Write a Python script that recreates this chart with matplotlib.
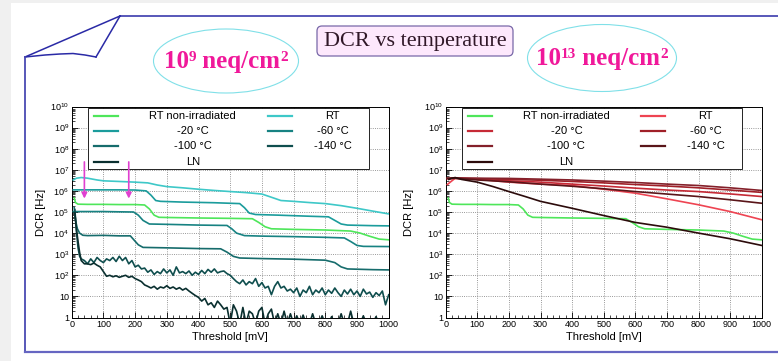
import matplotlib.pyplot as plt
from matplotlib.patches import Rectangle, Ellipse, FancyBboxPatch
from matplotlib.ticker import FixedLocator, FixedFormatter, LogLocator, MultipleLocator, NullFormatter

plt.rcParams['font.family'] = ['Liberation Sans', 'DejaVu Sans']
plt.rcParams['mathtext.fontset'] = 'custom'
plt.rcParams['mathtext.rm'] = 'Liberation Sans'
plt.rcParams['mathtext.it'] = 'Liberation Sans:italic'

# ---- data (DCR in Hz vs threshold in mV) ----
labels = ['RT non-irradiated', 'RT', '-20 °C', '-60 °C', '-100 °C', '-140 °C', 'LN']
panel_titles = [('10', '9'), ('10', '13')]
ytick_vals = [1, 1e1, 1e2, 1e3, 1e4, 1e5, 1e6, 1e7, 1e8, 1e9, 1e10]
ytick_labels = ['1', '10'] + [r'$10^{%d}$' % k for k in range(2, 11)]
xtick_vals = [0, 100, 200, 300, 400, 500, 600, 700, 800, 900, 1000]

# non-irradiated reference (same curve in both panels)
ref_x = [8, 12, 20, 50, 100, 150, 200, 230, 245, 260, 275, 300, 400, 500, 570, 590,
         610, 630, 700, 800, 880, 910, 940, 970, 1000]
ref_y = [4.6e5, 2.8e5, 2.35e5, 2.3e5, 2.3e5, 2.25e5, 2.25e5, 2.15e5, 1.4e5, 7.1e4,
         5.6e4, 5.5e4, 5.2e4, 5.0e4, 4.8e4, 3.2e4, 2.0e4, 1.6e4, 1.5e4, 1.4e4, 1.25e4,
         1.0e4, 7.1e3, 5.2e3, 4.8e3]

# 1e9 neq/cm2
lo_rt_x = [5, 15, 30, 50, 80, 100, 150, 200, 240, 270, 300, 350, 400, 450, 500, 550,
           600, 630, 660, 700, 750, 800, 850, 900, 950, 1000]
lo_rt_y = [3.3e6, 4.0e6, 4.3e6, 4.0e6, 3.3e6, 3.0e6, 2.8e6, 2.6e6, 2.4e6, 1.9e6, 1.6e6,
           1.4e6, 1.2e6, 1.05e6, 9.3e5, 8.3e5, 7.1e5, 5.0e5, 3.5e5, 3.2e5, 2.8e5, 2.5e5,
           2.0e5, 1.5e5, 1.1e5, 8.1e4]
lo_m20_x = [5, 50, 100, 150, 200, 235, 250, 265, 280, 350, 450, 530, 545, 560, 580, 650,
            750, 810, 830, 850, 870, 950, 1000]
lo_m20_y = [1.12e6, 1.12e6, 1.12e6, 1.12e6, 1.1e6, 1.0e6, 6.3e5, 3.5e5, 3.2e5, 2.95e5,
            2.75e5, 2.5e5, 1.6e5, 8.9e4, 7.6e4, 7.1e4, 6.3e4, 5.9e4, 4.0e4, 2.7e4, 2.4e4,
            2.25e4, 2.2e4]
lo_m60_x = [5, 50, 100, 150, 195, 210, 225, 245, 300, 400, 490, 505, 520, 545, 600, 700,
            800, 860, 880, 900, 920, 1000]
lo_m60_y = [1.05e5, 1.05e5, 1.05e5, 1.02e5, 1.0e5, 7.1e4, 4.0e4, 2.7e4, 2.6e4, 2.4e4,
            2.3e4, 1.6e4, 1.0e4, 7.6e3, 7.2e3, 6.8e3, 6.3e3, 5.9e3, 4.0e3, 2.6e3, 2.35e3,
            2.3e3]
lo_m100_x = [8, 12, 18, 25, 35, 50, 100, 150, 185, 195, 210, 225, 300, 400, 470, 490,
             510, 530, 600, 700, 800, 830, 850, 870, 950, 1000]
lo_m100_y = [1.6e5, 4.0e4, 1.6e4, 1.0e4, 7.9e3, 7.6e3, 7.8e3, 7.4e3, 7.4e3, 5.0e3, 2.8e3,
             2.1e3, 2.0e3, 1.85e3, 1.8e3, 1.25e3, 7.9e2, 6.6e2, 6.2e2, 5.8e2, 5.2e2, 4.0e2,
             2.5e2, 2.0e2, 1.85e2, 1.8e2]
noisy_x = [10, 15, 20, 25] + list(range(30, 1001, 10))
lo_m140_y = [1.3e5, 1.2e4, 2.0e3, 8.0e2,
             6e2, 5e2, 3.5e2, 6e2, 4e2, 7e2, 5e2, 4e2, 6e2, 5e2,
             7e2, 4.5e2, 8e2, 5e2, 7e2, 3.5e2, 5e2, 2.5e2, 3e2, 2e2,
             2.2e2, 1.4e2, 1.8e2, 1.1e2, 1.5e2, 1.2e2, 2e2, 1.3e2, 1.8e2, 1.0e2,
             2.5e2, 1.3e2, 1.5e2, 1.2e2, 1.6e2, 1.0e2, 1.4e2, 1.1e2, 1.7e2, 1.2e2,
             1.9e2, 1.4e2, 2.0e2, 1.3e2, 1.5e2, 1.6e2, 1.2e2, 1.0e2, 7e1, 5e1,
             4e1, 6e1, 3.5e1, 5e1, 4e1, 7e1, 3e1, 4.5e1, 2.5e1, 3e1,
             1.2e1, 3e1, 5e1, 2.5e1, 3e1, 1.8e1, 2.2e1, 1.5e1, 2.5e1, 1e1,
             2e1, 1.5e1, 3e1, 1.2e1, 2e1, 1.5e1, 2.5e1, 1.2e1, 2e1, 1.4e1,
             2.5e1, 1.5e1, 1.0e1, 2e1, 1.3e1, 2.2e1, 1.2e1, 1.8e1, 1.0e1, 2.2e1,
             1.3e1, 1.6e1, 9, 1.5e1, 1.1e1, 1.8e1, 4, 1.2e1]
lo_ln_y = [9e4, 1.5e4, 4e3, 1.2e3,
           5e2, 3.5e2, 3.5e2, 3.2e2, 3.8e2, 3.0e2, 2.5e2, 1.5e2, 9e1, 1e2,
           8.5e1, 9.5e1, 8e1, 9e1, 1e2, 8e1, 9e1, 7e1, 6e1, 5e1,
           3.5e1, 3e1, 2.5e1, 3e1, 2.2e1, 2.8e1, 2.5e1, 3.2e1, 2.4e1, 2.8e1,
           2.2e1, 2.6e1, 2.0e1, 2.4e1, 1.8e1, 1.4e1, 1.1e1, 9, 6, 8,
           4, 5, 3, 6, 4, 2.5, 3, 0.5, 4, 2,
           0.5, 3, 0.5, 2, 1.5, 0.5, 2, 3, 0.5, 1.5,
           2.5, 0.5, 1.5, 0.5, 2, 0.5, 1.5, 0.5, 1.2, 0.5,
           1.3, 0.5, 0.5, 1.5, 0.5, 0.5, 1.2, 0.5, 0.5, 1.1,
           0.5, 0.5, 1.5, 0.5, 0.5, 2, 0.5, 0.5, 0.5, 1.2,
           0.5, 0.5, 0.5, 1.1, 0.5, 0.5, 0.5, 0.5]

# 1e13 neq/cm2
hi_x = [5, 30, 100, 200, 300, 400, 500, 600, 700, 800, 900, 1000]
hi_rt_y = [2.0e6, 4.0e6, 3.6e6, 2.6e6, 2.1e6, 1.8e6, 1.2e6, 7.8e5, 4.2e5, 2.2e5, 1.05e5, 4.3e4]
hi_m20_y = [3.8e6, 3.9e6, 3.6e6, 3.0e6, 2.6e6, 2.1e6, 1.7e6, 1.35e6, 1.1e6, 9.3e5, 7.2e5, 5.4e5]
hi_m60_y = [3.9e6, 4.0e6, 3.8e6, 3.5e6, 3.2e6, 2.8e6, 2.4e6, 2.0e6, 1.7e6, 1.4e6, 1.1e6, 8.5e5]
hi_m100_y = [4.0e6, 4.1e6, 4.0e6, 3.9e6, 3.6e6, 3.3e6, 2.9e6, 2.5e6, 2.1e6, 1.8e6, 1.4e6, 1.05e6]
hi_m140_y = [3.9e6, 4.0e6, 3.3e6, 2.7e6, 2.1e6, 1.66e6, 1.26e6, 9.3e5, 7.1e5, 5.4e5, 3.8e5, 2.6e5]
hi_ln_x = [10, 20, 30, 50, 100, 150, 200, 250, 300, 400, 500, 600, 700, 800, 900, 1000]
hi_ln_y = [3.5e6, 4.0e6, 4.3e6, 3.5e6, 2.6e6, 1.6e6, 9.3e5, 5.5e5, 3.2e5, 1.5e5, 6.8e4,
           3.2e4, 1.9e4, 1.0e4, 5.4e3, 2.6e3]

lo_colors = ['#4ee65a', '#3ec8c8', '#1b9c9c', '#178282', '#166c6c', '#0f4e4e', '#0a2f2f']
hi_colors = ['#4ee65a', '#ee4452', '#c62a36', '#a02028', '#84202a', '#5a1519', '#2c0b0b']

arrow_x = [40, 180]

W, H = 778, 361
fig = plt.figure(figsize=(W / 100, H / 100), dpi=100)
fig.patch.set_facecolor('white')

# ---- slide decorations in pixel coordinates ----
bg = fig.add_axes([0, 0, 1, 1])
bg.set_xlim(0, W)
bg.set_ylim(H, 0)
bg.axis('off')
bg.add_patch(Rectangle((0, 0), 11, H, fc='#f0f0f0', ec='none'))
bg.add_patch(Rectangle((0, 0), W, 3, fc='#f0f0f0', ec='none'))
navy = '#2a2aa6'
bg.plot([120, W], [16, 16], color=navy, lw=1.1)
bg.plot([25, 120], [57, 16], color=navy, lw=1.1)
bg.plot([120, 96], [16, 57], color=navy, lw=1.1)
bg.plot([25, 45, 60, 73, 85, 96], [57, 55, 54, 53.5, 55, 57], color=navy, lw=1.1)
bg.plot([25, 25], [57, 352], color='#4a4ab2', lw=1.3)
bg.plot([25, W], [352, 352], color='#6666c2', lw=1.6)

serif_bold = dict(family=['Liberation Serif', 'DejaVu Serif'], weight='bold', color='#f0189a')
for (cx, cy, ew, eh), (base, exp) in zip([(226, 61, 145, 64), (602, 58, 149, 67)], panel_titles):
    bg.add_patch(Ellipse((cx, cy), ew, eh, fc='white', ec='#80e0e8', lw=0.8))
    # build "10^n neq/cm^2" from pieces so the superscripts stay bold serif
    t0 = bg.text(0, 0, base, fontsize=18, **serif_bold)
    t1 = bg.text(0, 0, exp, fontsize=11, **serif_bold)
    t2 = bg.text(0, 0, ' neq/cm', fontsize=18, **serif_bold)
    t3 = bg.text(0, 0, '2', fontsize=11, **serif_bold)
    fig.canvas.draw()
    r = fig.canvas.get_renderer()
    widths = [t.get_window_extent(r).width for t in (t0, t1, t2, t3)]
    x = cx - sum(widths) / 2
    base_y = cy + 7
    for t, w, dy in zip((t0, t1, t2, t3), widths, (0, -7, 0, -7)):
        t.set_position((x, base_y + dy))
        t.set_va('baseline')
        x += w

bg.add_patch(FancyBboxPatch((317, 26), 196, 30, boxstyle='round,pad=0,rounding_size=5',
                            fc='#fde8fc', ec='#7868a8', lw=0.9))
bg.text(415, 41.5, 'DCR vs temperature', family='Liberation Serif', fontsize=16,
        color='#301828', ha='center', va='center')


def draw_panel(rect, series, colors, ylab_x):
    ax = fig.add_axes(rect)
    ax.set_facecolor('white')
    for (xs, ys), c in zip(series, colors):
        ax.plot(xs, ys, color=c, lw=1.2, zorder=3)
    ax.set_yscale('log')
    ax.set_xlim(0, 1000)
    ax.set_ylim(1, 1e10)
    ax.yaxis.set_major_locator(FixedLocator(ytick_vals))
    ax.yaxis.set_major_formatter(FixedFormatter(ytick_labels))
    ax.yaxis.set_minor_locator(LogLocator(base=10, subs=range(2, 10), numticks=20))
    ax.yaxis.set_minor_formatter(NullFormatter())
    ax.xaxis.set_major_locator(FixedLocator(xtick_vals))
    ax.xaxis.set_minor_locator(MultipleLocator(20))
    ax.tick_params(which='major', direction='in', length=4, width=0.6, labelsize=6.5, pad=2)
    ax.tick_params(which='minor', direction='in', length=2, width=0.5)
    ax.grid(True, which='major', ls=':', lw=0.6, color='#777777', zorder=1)
    for s in ax.spines.values():
        s.set_linewidth(0.7)
    ax.set_xlabel('Threshold [mV]', fontsize=8)
    ax.set_ylabel('DCR [Hz]', fontsize=8)
    ax.xaxis.set_label_coords(0.5, -0.07)
    ax.yaxis.set_label_coords(ylab_x, 0.5)

    # ROOT-style legend box: 2 columns, row-major, centred labels
    ax.add_patch(Rectangle((0.05, 0.706), 0.888, 0.289, transform=ax.transAxes,
                           fc='white', ec='black', lw=0.6, zorder=5))
    rows_y = [0.955, 0.886, 0.812, 0.739]
    for i, (lab, c) in enumerate(zip(labels, colors)):
        r, col = divmod(i, 2)
        hx = [0.069, 0.145] if col == 0 else [0.618, 0.694]
        tx = 0.382 if col == 0 else 0.823
        ax.plot(hx, [rows_y[r]] * 2, color=c, lw=1.6, transform=ax.transAxes, zorder=6)
        ax.text(tx, rows_y[r], lab, transform=ax.transAxes, fontsize=8, ha='center',
                va='center', zorder=6)
    return ax


lo_series = [(ref_x, ref_y), (lo_rt_x, lo_rt_y), (lo_m20_x, lo_m20_y), (lo_m60_x, lo_m60_y),
             (lo_m100_x, lo_m100_y), (noisy_x, lo_m140_y), (noisy_x, lo_ln_y)]
hi_series = [(ref_x, ref_y), (hi_x, hi_rt_y), (hi_x, hi_m20_y), (hi_x, hi_m60_y),
             (hi_x, hi_m100_y), (hi_x, hi_m140_y), (hi_ln_x, hi_ln_y)]

ax1 = draw_panel([71.7 / W, 43.5 / H, 317 / W, 211 / H], lo_series, lo_colors, -0.082)
ax2 = draw_panel([445.7 / W, 43.5 / H, 316 / W, 211 / H], hi_series, hi_colors, -0.10)

for xa in arrow_x:
    ax1.annotate('', xy=(xa, 3.2e5), xytext=(xa, 3.2e7),
                 arrowprops=dict(arrowstyle='-|>', color='#e040d0', lw=1.2, mutation_scale=8),
                 zorder=8)

fig.savefig('out.png', dpi=100)
